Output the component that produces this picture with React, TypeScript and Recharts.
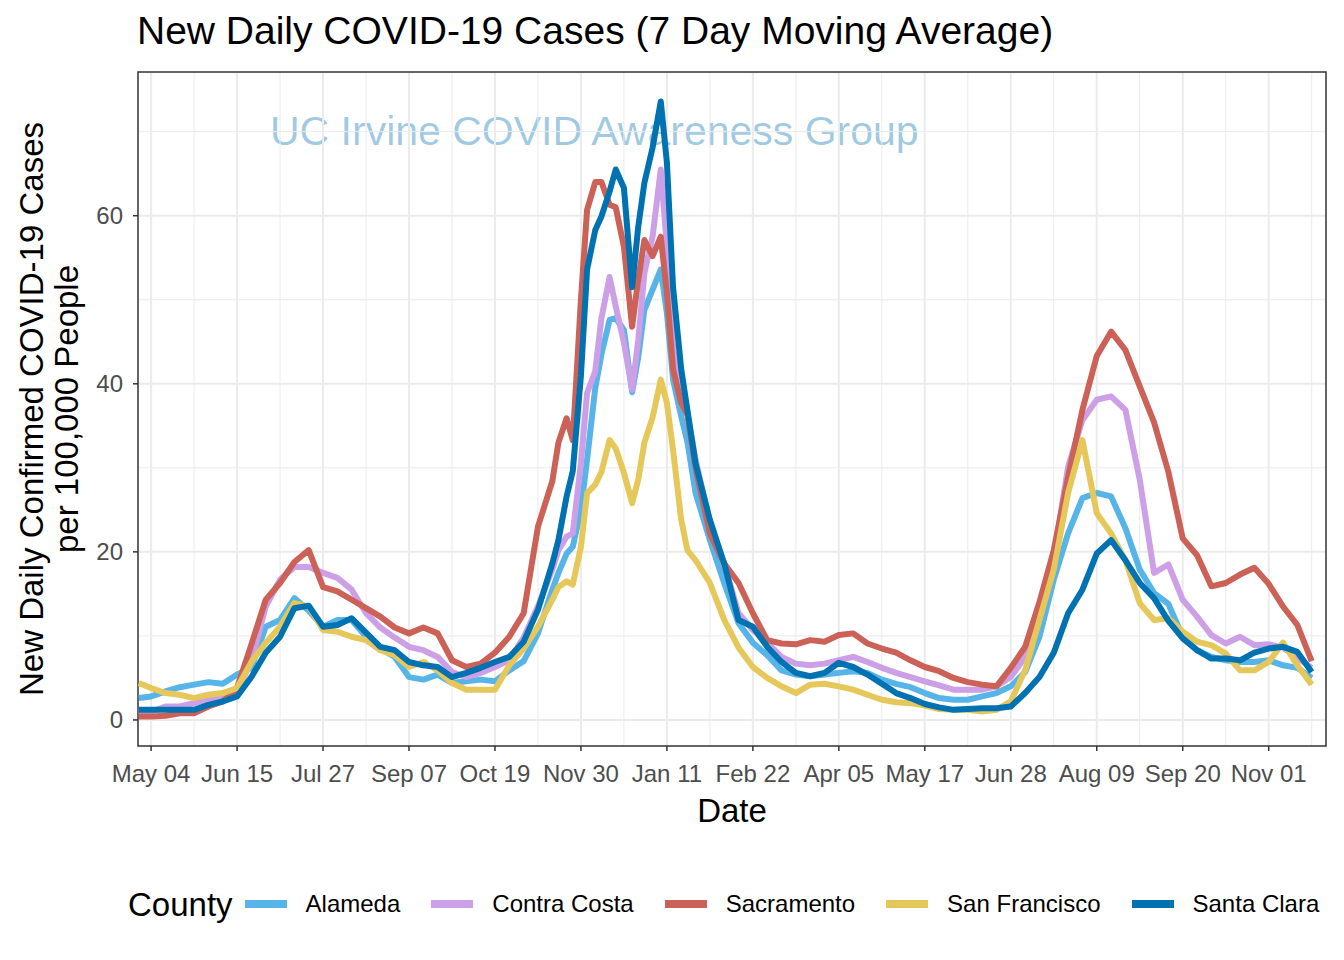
import React from 'react';
import { LineChart, Line, XAxis, YAxis, CartesianGrid, Legend, ReferenceArea } from 'recharts';

const FONT = '"Liberation Sans", Arial, Helvetica, sans-serif';

// days since 2020-05-04 (weekly, denser through the winter surge)
const days = [
  -6, 0, 7, 14, 21, 28, 35, 42, 49, 56, 63, 70, 77, 84, 91, 98, 105, 112, 119, 126, 133, 140, 147, 154, 161, 168, 175, 182, 189,
  196, 199, 203, 206, 210, 213, 217, 220, 224, 227, 231, 235, 238, 241, 245, 249, 252, 255, 259, 262, 266,
  273, 280, 287, 294, 301, 308, 315, 322, 329, 336, 343, 350, 357, 364, 371, 378, 385, 392, 399, 406, 413, 420, 427,
  434, 441, 448, 455, 462, 469, 476, 483, 490, 497, 504, 511, 518, 525, 532, 539, 546, 553, 560, 567,
];

const alameda = [
  2.6, 2.8, 3.4, 3.9, 4.2, 4.5, 4.3, 5.4, 6.2, 11.1, 11.9, 14.5, 13.0, 11.1, 11.9, 11.9, 9.9, 8.5, 7.5, 5.1, 4.8, 5.4, 4.4, 4.6, 4.8, 4.6, 5.9, 7.0, 10.3,
  15.5, 17.5, 19.8, 20.6, 25.0, 31.0, 39.5, 43.5, 47.6, 47.8, 46.4, 39.0, 43.2, 48.8, 51.2, 53.6, 48.4, 40.5, 36.1, 33.1, 27.0,
  21.4, 16.3, 11.5, 9.2, 7.7, 5.9, 5.4, 5.2, 5.4, 5.6, 5.8, 5.6, 4.8, 4.3, 3.9, 3.2, 2.6, 2.4, 2.4, 2.8, 3.2, 4.0, 5.7,
  9.9, 16.7, 22.2, 26.4, 27.0, 26.6, 22.8, 17.9, 15.1, 13.8, 9.9, 8.3, 7.5, 7.1, 6.9, 6.9, 7.1, 6.5, 6.2, 5.0,
];

const contraCosta = [
  0.9, 1.0, 1.6, 1.6, 2.0, 2.4, 2.8, 3.4, 7.0, 13.5, 16.7, 18.2, 18.2, 17.5, 16.9, 15.5, 12.7, 11.0, 9.8, 8.7, 8.3, 7.5, 5.7, 5.1, 5.6, 6.3, 7.1, 9.8, 13.5,
  17.9, 20.2, 21.8, 22.2, 30.6, 38.9, 41.5, 47.8, 52.7, 49.2, 44.9, 39.3, 45.2, 53.2, 57.5, 65.5, 56.3, 44.4, 37.7, 36.5, 31.0,
  23.4, 18.6, 12.7, 10.7, 9.2, 7.5, 6.7, 6.5, 6.7, 7.1, 7.5, 6.9, 6.2, 5.6, 5.1, 4.6, 4.1, 3.6, 3.6, 3.6, 4.0, 5.1, 7.5,
  13.5, 19.4, 30.1, 35.7, 38.1, 38.5, 36.9, 28.6, 17.5, 18.5, 14.3, 12.3, 10.1, 9.1, 9.9, 8.9, 9.0, 8.6, 7.4, 6.2,
];

const sacramento = [
  0.4, 0.4, 0.5, 0.8, 0.8, 1.6, 2.2, 3.8, 9.0, 14.3, 16.3, 18.8, 20.2, 15.8, 15.3, 14.3, 13.3, 12.3, 11.0, 10.3, 11.0, 10.3, 7.1, 6.3, 6.7, 8.0, 9.9, 12.7, 23.0,
  28.4, 33.0, 35.9, 33.3, 50.0, 60.7, 64.0, 64.0, 61.3, 61.0, 56.3, 46.8, 52.4, 57.1, 55.2, 57.5, 50.8, 41.7, 37.7, 36.3, 30.0,
  22.2, 18.6, 16.3, 12.7, 9.5, 9.1, 9.0, 9.5, 9.3, 10.1, 10.3, 9.1, 8.5, 8.0, 7.1, 6.3, 5.8, 5.0, 4.5, 4.2, 4.0, 6.2, 8.7,
  14.0, 20.2, 28.9, 36.9, 43.3, 46.2, 44.0, 39.7, 35.4, 29.5, 21.6, 19.6, 15.9, 16.3, 17.3, 18.1, 16.2, 13.5, 11.3, 7.0,
];

const sanFrancisco = [
  4.4, 3.8, 3.2, 3.0, 2.6, 3.0, 3.2, 3.8, 6.9, 9.2, 11.1, 13.9, 13.5, 10.7, 10.5, 9.9, 9.5, 8.3, 7.7, 6.3, 6.9, 5.9, 4.4, 3.6, 3.6, 3.6, 6.5, 8.5, 11.1,
  14.3, 15.8, 16.5, 16.1, 20.6, 27.0, 28.0, 29.5, 33.3, 32.3, 29.4, 25.8, 28.6, 33.0, 36.0, 40.5, 37.7, 32.1, 23.8, 20.2, 19.0,
  16.3, 11.9, 8.6, 6.3, 5.0, 4.0, 3.2, 4.2, 4.3, 4.0, 3.6, 3.0, 2.4, 2.1, 2.0, 1.7, 1.3, 1.2, 1.2, 1.0, 1.2, 2.2, 5.9,
  11.9, 17.9, 27.0, 33.3, 24.6, 22.2, 19.0, 13.9, 11.9, 12.1, 10.5, 9.3, 8.9, 7.9, 5.9, 5.9, 6.9, 9.2, 6.5, 4.2,
];

const santaClara = [
  1.2, 1.2, 1.2, 1.2, 1.2, 1.8, 2.2, 2.8, 5.1, 8.0, 9.9, 13.3, 13.6, 11.1, 11.3, 12.1, 10.4, 8.7, 8.3, 6.9, 6.5, 6.3, 5.1, 5.6, 6.2, 6.9, 7.5, 9.3, 13.1,
  18.6, 21.4, 26.6, 29.6, 41.0, 53.6, 58.3, 59.9, 62.9, 65.5, 63.3, 51.5, 58.7, 63.9, 68.1, 73.6, 66.3, 51.5, 41.7, 36.9, 30.5,
  23.8, 18.6, 11.9, 11.1, 8.7, 6.9, 5.6, 5.2, 5.6, 6.8, 6.3, 5.4, 4.3, 3.2, 2.6, 1.9, 1.5, 1.2, 1.3, 1.4, 1.4, 1.6, 3.2,
  5.1, 8.0, 12.7, 15.5, 19.8, 21.4, 19.0, 16.3, 14.5, 11.8, 9.7, 8.3, 7.3, 7.3, 7.1, 8.0, 8.5, 8.7, 8.1, 5.7,
];

const tickDays = [0, 42, 84, 126, 168, 210, 252, 294, 336, 378, 420, 462, 504, 546];
const tickLabels = ['May 04', 'Jun 15', 'Jul 27', 'Sep 07', 'Oct 19', 'Nov 30', 'Jan 11', 'Feb 22', 'Apr 05', 'May 17', 'Jun 28', 'Aug 09', 'Sep 20', 'Nov 01'];
const minorDays = [21, 63, 105, 147, 189, 231, 273, 315, 357, 399, 441, 483, 525, 567];
const yTicks = [0, 20, 40, 60];
const yMinor = [10, 30, 50, 70];

const counties = [
  { name: 'Alameda', color: '#56B4E9', values: alameda },
  { name: 'Contra Costa', color: '#CC9FE6', values: contraCosta },
  { name: 'Sacramento', color: '#CC6158', values: sacramento },
  { name: 'San Francisco', color: '#E6C85A', values: sanFrancisco },
  { name: 'Santa Clara', color: '#0072B2', values: santaClara },
];

const data = days.map((day, i) => {
  const row: Record<string, number> = { day };
  counties.forEach((c) => {
    row[c.name] = c.values[i];
  });
  return row;
});

const X_DOMAIN: [number, number] = [-6.4, 574];
const Y_DOMAIN: [number, number] = [-3.1, 77.1];

const LegendContent = () => (
  <div
    style={{
      display: 'flex',
      alignItems: 'center',
      height: 40,
      width: 1344,
      paddingLeft: 128,
      boxSizing: 'border-box',
      whiteSpace: 'nowrap',
      fontFamily: FONT,
      color: '#000',
    }}
  >
    <span style={{ fontSize: 33, lineHeight: 1, marginRight: 12, flexShrink: 0 }}>County</span>
    {counties.map((c) => (
      <span key={c.name} style={{ display: 'flex', alignItems: 'center', marginRight: 31, flexShrink: 0 }}>
        <span style={{ display: 'inline-block', width: 42, height: 8, background: c.color, marginRight: 19 }} />
        <span style={{ fontSize: 24, lineHeight: 1, whiteSpace: 'nowrap' }}>{c.name}</span>
      </span>
    ))}
  </div>
);

export default function App() {
  return (
    <div style={{ position: 'relative', width: 1344, height: 960, background: '#fff', fontFamily: FONT }}>
      <style>{'body{margin:0}'}</style>
      <svg width={1344} height={960} style={{ position: 'absolute', left: 0, top: 0 }}>
        <text x={270} y={145} fontSize={41} fill="#0072B2" fillOpacity={0.38} fontFamily={FONT}>
          UC Irvine COVID Awareness Group
        </text>
      </svg>
      <LineChart width={1344} height={960} data={data} margin={{ top: 72, right: 18, bottom: 184, left: 78 }}>
        <CartesianGrid stroke="#EBEBEB" strokeWidth={1} horizontalValues={yMinor} verticalValues={minorDays} fill="none" />
        <CartesianGrid stroke="#EBEBEB" strokeWidth={2} horizontalValues={yTicks} verticalValues={tickDays} fill="none" />
        <XAxis
          type="number"
          dataKey="day"
          domain={X_DOMAIN}
          allowDataOverflow
          ticks={tickDays}
          interval={0}
          tickFormatter={(v: number) => tickLabels[tickDays.indexOf(v)]}
          axisLine={false}
          tickLine={{ stroke: '#333333', strokeWidth: 1.5 }}
          tickSize={5}
          tickMargin={14}
          height={30}
          tick={{ fill: '#4D4D4D', fontSize: 24, fontFamily: FONT }}
        />
        <YAxis
          type="number"
          domain={Y_DOMAIN}
          allowDataOverflow
          ticks={yTicks}
          interval={0}
          axisLine={false}
          tickLine={{ stroke: '#333333', strokeWidth: 1.5 }}
          tickSize={5}
          tickMargin={10}
          width={60}
          tick={{ fill: '#4D4D4D', fontSize: 24, fontFamily: FONT }}
        />
        {counties.map((c) => (
          <Line
            key={c.name}
            type="linear"
            dataKey={c.name}
            stroke={c.color}
            strokeWidth={6}
            strokeLinejoin="round"
            dot={false}
            activeDot={false}
            isAnimationActive={false}
          />
        ))}
        <ReferenceArea
          x1={X_DOMAIN[0]}
          x2={X_DOMAIN[1]}
          y1={Y_DOMAIN[0]}
          y2={Y_DOMAIN[1]}
          fill="none"
          stroke="#333333"
          strokeWidth={1.5}
          ifOverflow="visible"
        />
        <Legend
          layout="horizontal"
          verticalAlign="middle"
          align="center"
          content={() => <LegendContent />}
          wrapperStyle={{ left: 0, top: 884, width: 1344 }}
        />
      </LineChart>
      <svg width={1344} height={960} style={{ position: 'absolute', left: 0, top: 0, pointerEvents: 'none' }}>
        <text x={137} y={44} fontSize={39} fill="#000" fontFamily={FONT}>
          New Daily COVID-19 Cases (7 Day Moving Average)
        </text>
        <text x={732} y={822} fontSize={33} fill="#000" fontFamily={FONT} textAnchor="middle">
          Date
        </text>
        <text transform="translate(43, 409) rotate(-90)" fontSize={33} fill="#000" fontFamily={FONT} textAnchor="middle">
          New Daily Confirmed COVID-19 Cases
        </text>
        <text transform="translate(78, 409) rotate(-90)" fontSize={33} fill="#000" fontFamily={FONT} textAnchor="middle">
          per 100,000 People
        </text>
      </svg>
    </div>
  );
}
